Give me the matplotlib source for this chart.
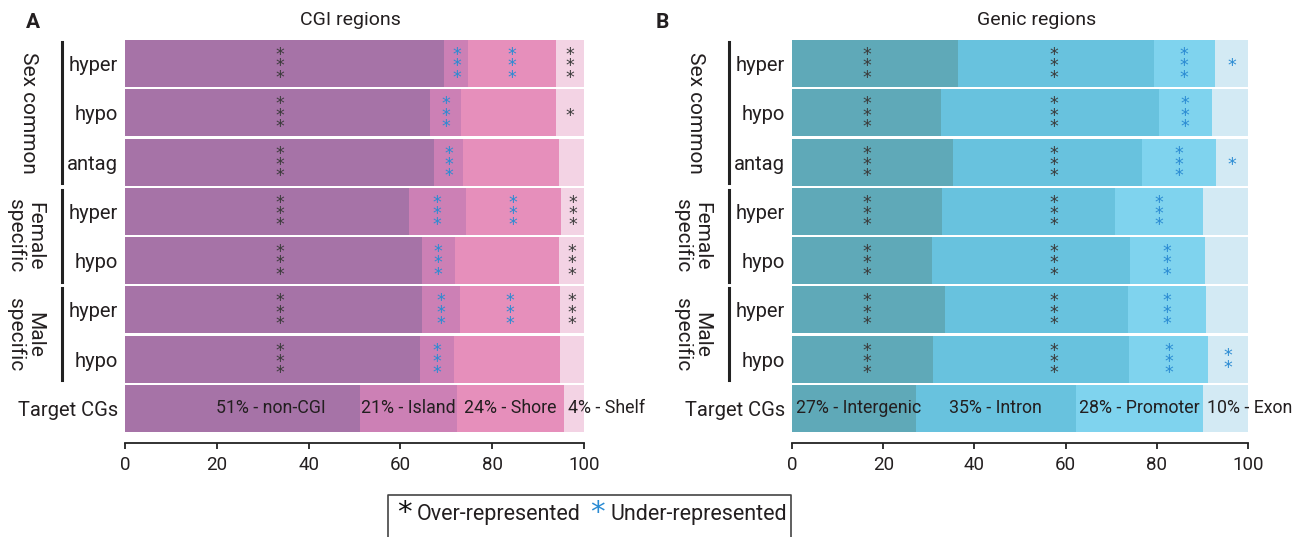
import numpy as np
import matplotlib
matplotlib.use("Agg")
import matplotlib.pyplot as plt
import matplotlib.transforms as mtransforms
from matplotlib.lines import Line2D

plt.rcParams['font.family'] = ['Roboto', 'DejaVu Sans']
TXT = '#231f20'
STAR_DARK = '#3a3a3a'
STAR_BLUE = '#2a8bd3'

# ---- data (percent of CGs per region) ----
row_labels = ['hyper', 'hypo', 'antag', 'hyper', 'hypo', 'hyper', 'hypo', 'Target CGs']

cgi_names = ['non-CGI', 'Island', 'Shore', 'Shelf']
cgi_noncgi = [69.6, 66.4, 67.4, 61.8, 64.7, 64.7, 64.3, 51.1]
cgi_island = [5.2, 6.8, 6.2, 12.4, 7.1, 8.3, 7.4, 21.2]
cgi_shore = [19.1, 20.7, 21.0, 20.8, 22.7, 21.8, 23.0, 23.4]
cgi_shelf = [6.1, 6.1, 5.4, 5.0, 5.5, 5.2, 5.3, 4.3]
cgi_target_pct = [51, 21, 24, 4]

genic_names = ['Intergenic', 'Intron', 'Promoter', 'Exon']
gen_inter = [36.3, 32.7, 35.3, 32.9, 30.7, 33.5, 31.0, 27.2]
gen_intron = [43.0, 47.7, 41.4, 37.9, 43.4, 40.1, 42.8, 35.0]
gen_prom = [13.4, 11.6, 16.2, 19.4, 16.4, 17.1, 17.5, 28.0]
gen_exon = [7.3, 8.0, 7.1, 9.8, 9.5, 9.3, 8.7, 9.8]
gen_target_pct = [27, 35, 28, 10]

# significance: n stars, positive = over-represented, negative = under-represented
cgi_sig_noncgi = [3, 3, 3, 3, 3, 3, 3]
cgi_sig_island = [-3, -3, -3, -3, -3, -3, -3]
cgi_sig_shore = [-3, 0, 0, -3, 0, -3, 0]
cgi_sig_shelf = [3, 1, 0, 3, 3, 3, 0]

gen_sig_inter = [3, 3, 3, 3, 3, 3, 3]
gen_sig_intron = [3, 3, 3, 3, 3, 3, 3]
gen_sig_prom = [-3, -3, -3, -3, -3, -3, -3]
gen_sig_exon = [-1, 0, -1, 0, 0, 0, -2]

groups = [('Sex common', 0, 2), ('Female\nspecific', 3, 4), ('Male\nspecific', 5, 6)]

cgi_colors = ['#a673a7', '#cc80b5', '#e68fbb', '#f3d3e4']
gen_colors = ['#5fa9b8', '#68c2de', '#7fd3ee', '#d3eaf4']

fig = plt.figure(figsize=(13.14, 5.37), dpi=100)
W, H = 1314, 537


def px_axes(x0, x1, y0, y1):
    return fig.add_axes([x0 / W, 1 - y1 / H, (x1 - x0) / W, (y1 - y0) / H])


def draw_stars(ax, x, y, n):
    if n == 0:
        return
    col = STAR_DARK if n > 0 else STAR_BLUE
    tr = mtransforms.offset_copy(ax.transData, fig=fig, x=0, y=-2.0, units='points')
    ax.text(x, y, '\n'.join(['*'] * abs(n)), transform=tr, ha='center', va='center',
            fontsize=12.5, color=col, family='DejaVu Sans', linespacing=0.52)


def panel(ax, series, colors, sigs, fixed_x, target_pct, names, label_modes):
    y = np.arange(len(row_labels))
    left = np.zeros(len(row_labels))
    bounds = []
    for vals, c in zip(series, colors):
        vals = np.array(vals)
        ax.barh(y, vals, left=left, height=0.95, color=c, edgecolor='none')
        bounds.append((left.copy(), left + vals))
        left = left + vals
    ax.set_xlim(0, 100)
    ax.set_ylim(7.5, -0.5)

    # significance stars
    for j, sig in enumerate(sigs):
        lo, hi = bounds[j]
        for i, n in enumerate(sig):
            x = fixed_x[j] if fixed_x[j] is not None else (lo[i] + hi[i]) / 2
            draw_stars(ax, x, i, n)

    # target row labels
    ti = len(row_labels) - 1
    for j, (p, nm) in enumerate(zip(target_pct, names)):
        lo, hi = bounds[j]
        mode = label_modes[j]
        txt = f'{p}% - {nm}'
        if mode == 'left':
            ax.text(lo[ti] + 0.8, ti, txt, ha='left', va='center', fontsize=12.8, color=TXT)
        elif isinstance(mode, float):
            ax.text(mode, ti, txt, ha='center', va='center', fontsize=12.8, color=TXT)
        else:
            ax.text((lo[ti] + hi[ti]) / 2, ti, txt, ha='center', va='center', fontsize=12.8,
                    color=TXT)

    # axes styling
    for s in ['top', 'right', 'left']:
        ax.spines[s].set_visible(False)
    ax.spines['bottom'].set_position(('outward', 7))
    ax.spines['bottom'].set_linewidth(1.3)
    ax.spines['bottom'].set_color('#222222')
    ax.set_xticks([0, 20, 40, 60, 80, 100])
    ax.tick_params(axis='x', direction='out', length=4.5, width=1.3, colors='#222222',
                   labelsize=13.5, pad=5)
    ax.tick_params(axis='x', labelcolor=TXT)
    ax.set_yticks(y)
    ax.set_yticklabels(row_labels, fontsize=14.5, color=TXT)
    ax.tick_params(axis='y', length=0, pad=5)

    # group brackets and labels
    tb = mtransforms.blended_transform_factory(ax.transAxes, ax.transData)
    axw = ax.get_position().width * W
    for name, r0, r1 in groups:
        xb = -63 / axw
        ax.add_line(Line2D([xb, xb], [r0 - 0.44, r1 + 0.43], transform=tb, color='#222222',
                           lw=2.2, clip_on=False))
        xt = (-100 if '\n' in name else -96) / axw
        ax.text(xt, (r0 + r1) / 2, name, transform=tb, rotation=270, ha='center', va='center',
                fontsize=15, color=TXT, multialignment='center', linespacing=1.0)


ax1 = px_axes(125, 584, 39, 433)
panel(ax1, [cgi_noncgi, cgi_island, cgi_shore, cgi_shelf], cgi_colors,
      [cgi_sig_noncgi, cgi_sig_island, cgi_sig_shore, cgi_sig_shelf],
      [33.7, None, None, None], cgi_target_pct, cgi_names,
      [31.8, 'center', 'center', 'left'])

ax2 = px_axes(792, 1248, 39, 433)
panel(ax2, [gen_inter, gen_intron, gen_prom, gen_exon], gen_colors,
      [gen_sig_inter, gen_sig_intron, gen_sig_prom, gen_sig_exon],
      [16.5, 57.4, None, None], gen_target_pct, genic_names,
      ['left', 'center', 'center', 'left'])

# titles and panel letters
fig.text(350 / W, 1 - 20 / H, 'CGI regions', fontsize=14, color=TXT, ha='center', va='center')
fig.text(1037 / W, 1 - 20 / H, 'Genic regions', fontsize=14, color=TXT, ha='center', va='center')
fig.text(33 / W, 1 - 22 / H, 'A', fontsize=15, fontweight='bold', color=TXT, ha='center',
         va='center')
fig.text(662 / W, 1 - 22 / H, 'B', fontsize=15, fontweight='bold', color=TXT, ha='center',
         va='center')

# legend box (open at the bottom)
bx0, bx1, by = 388 / W, 791 / W, 1 - 495 / H
fig.add_artist(Line2D([bx0, bx0, bx1, bx1], [-0.02, by, by, -0.02], transform=fig.transFigure,
                      color='#444444', lw=1.2))
fig.text(404 / W, 1 - 513 / H, '*', fontsize=21, color='#111111', ha='center', va='center',
         family='DejaVu Sans')
fig.text(417 / W, 1 - 520 / H, 'Over-represented', fontsize=15.5, color=TXT, ha='left',
         va='baseline')
fig.text(597 / W, 1 - 513 / H, '*', fontsize=21, color=STAR_BLUE, ha='center', va='center',
         family='DejaVu Sans')
fig.text(611 / W, 1 - 520 / H, 'Under-represented', fontsize=15.5, color=TXT, ha='left',
         va='baseline')

fig.savefig('out.png', dpi=100)
